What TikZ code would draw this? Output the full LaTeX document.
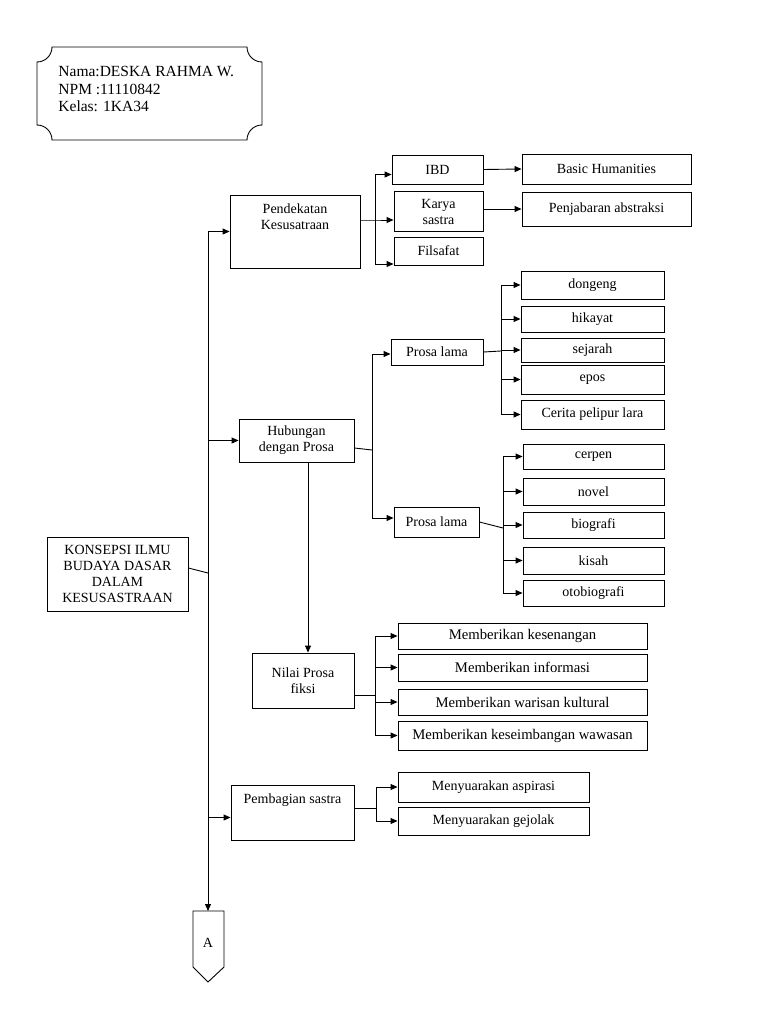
\documentclass[tikz,border=0pt]{standalone}
\usepackage{fontspec}
\setmainfont{Liberation Serif}
\usetikzlibrary{arrows.meta}

\begin{document}
\begin{tikzpicture}[x=1pt, y=-1pt, line width=0.9pt,
  font=\fontsize{14}{16}\selectfont,
  box/.style 2 args={draw, inner sep=2pt, align=center, minimum width=#1pt, minimum height=#2pt},
  lbl/.style={anchor=north, align=center, inner sep=0pt, yshift=-9pt},
  arr/.style={-{Triangle[length=7pt,width=6pt]}}]
\useasboundingbox (0,0) rectangle (768,1024);

% Identitas
\draw (52,47) -- (247,47) arc[start angle=180, end angle=90, radius=15]
  -- (262,125) arc[start angle=270, end angle=180, radius=15]
  -- (52,140) arc[start angle=0, end angle=-90, radius=15]
  -- (37,62) arc[start angle=90, end angle=0, radius=15] -- cycle;
\node[align=left, anchor=west, inner sep=0pt, font=\fontsize{15.5}{17.5}\selectfont] (info) at (58,89)
  {Nama:DESKA RAHMA W.\\NPM :11110842\\Kelas: 1KA34};

% Pusat
\node[box={141}{74}] (konsep) at (117.5,574) {KONSEPSI ILMU\\BUDAYA DASAR\\DALAM\\KESUSASTRAAN};

% Cabang utama
\node[box={130}{73}, label={[lbl]north:{Pendekatan\\Kesusatraan}}] (pend) at (295,231.5) {};
\node[box={115}{43}] (hub) at (296.5,440.5) {Hubungan\\dengan Prosa};
\node[box={102}{55}] (nilai) at (303,680.5) {Nilai Prosa\\fiksi};
\node[box={123}{55}, label={[lbl]north:{Pembagian sastra}}] (pemb) at (292.5,812.5) {};

% Pendekatan
\node[box={91}{29}] (ibd) at (437.5,169.5) {IBD};
\node[box={89}{40}] (karya) at (438.5,211.5) {Karya\\sastra};
\node[box={89}{28}] (fils) at (438.5,251) {Filsafat};
\node[box={169}{30}] (basic) at (606.5,169) {Basic Humanities};
\node[box={169}{34}] (penj) at (606.5,209) {Penjabaran abstraksi};

% Prosa
\node[box={92}{26}] (lama) at (437,352) {Prosa lama};
\node[box={85}{30}] (baru) at (436.5,522) {Prosa lama};
\node[box={143}{28}] (dongeng) at (592.5,285) {dongeng};
\node[box={143}{26}] (hikayat) at (592.5,319) {hikayat};
\node[box={143}{24}] (sejarah) at (592.5,350) {sejarah};
\node[box={143}{29}] (epos) at (592.5,379.5) {epos};
\node[box={143}{29}] (cerita) at (592.5,414.5) {Cerita pelipur lara};
\node[box={141}{25}] (cerpen) at (593.5,456.5) {cerpen};
\node[box={141}{27}] (novel) at (593.5,491.5) {novel};
\node[box={141}{26}] (biografi) at (593.5,525) {biografi};
\node[box={141}{27}] (kisah) at (593.5,560.5) {kisah};
\node[box={141}{26}] (otobio) at (593.5,593) {otobiografi};

% Nilai
\tikzset{nilaibox/.style={font=\fontsize{14.7}{16}\selectfont}}
\node[box={249}{26}, nilaibox] (senang) at (522.5,636) {Memberikan kesenangan};
\node[box={249}{27}, nilaibox] (info2) at (522.5,667.5) {Memberikan informasi};
\node[box={249}{26}, nilaibox] (warisan) at (522.5,702) {Memberikan warisan kultural};
\node[box={249}{29}, nilaibox] (imbang) at (522.5,735.5) {Memberikan keseimbangan wawasan};

% Pembagian
\node[box={191}{30}] (aspirasi) at (493.5,787) {Menyuarakan aspirasi};
\node[box={191}{28}] (gejolak) at (493.5,821) {Menyuarakan gejolak};

% Penghubung A
\draw (193,911) -- (224,911) -- (224,967) -- (208,982) -- (193,967) -- cycle;
\node (conA) at (208,943) {A};

% Garis
\coordinate (tr) at (208,573);
\coordinate (atop) at (208,911);
\draw ([yshift=6pt]konsep.east) -- (tr);
\draw[arr] (tr |- pend.west) -- (atop);
\draw[arr] (tr |- pend.west) -- (pend.west);
\draw[arr] (tr |- hub.west) -- (hub.west);
\draw[arr] ([yshift=-5pt]pemb.west -| tr) -- ([yshift=-5pt]pemb.west);

\coordinate (b1) at (375,220);
\draw[arr] (pend.east |- b1) -- (b1) -- (karya.west |- b1);
\draw[arr] (b1) |- ([yshift=-5pt]ibd.west);
\draw[arr] (b1) |- ([yshift=-13pt]fils.west);
\draw[arr] (ibd.east) -- (basic.west);
\draw[arr] (karya.east |- penj.west) -- (penj.west);

\coordinate (b2) at (372,450);
\draw ([yshift=-7.5pt]hub.east) -- (b2);
\draw[arr] (b2) |- ([yshift=-2pt]lama.west);
\draw[arr] (b2) |- ([yshift=4pt]baru.west);
\draw[arr] ([xshift=11.5pt]hub.south) -- ([xshift=11.5pt]hub.south |- nilai.north);

\coordinate (b3) at (501,351);
\draw (lama.east) -- (b3);
\foreach \n in {dongeng,hikayat,sejarah,epos,cerita}
  \draw[arr] (b3) |- (\n.west);

\coordinate (b4) at (503,528);
\draw (baru.east) -- (b4);
\foreach \n in {cerpen,novel,biografi,kisah,otobio}
  \draw[arr] (b4) |- (\n.west);

\coordinate (b5) at (375,695);
\draw ([yshift=-14.5pt]nilai.east) -- (b5);
\foreach \n in {senang,info2,warisan,imbang}
  \draw[arr] (b5) |- (\n.west);

\coordinate (b6) at (376,808);
\draw ([yshift=4.5pt]pemb.east) -- (b6);
\foreach \n in {aspirasi,gejolak}
  \draw[arr] (b6) |- (\n.west);
\end{tikzpicture}
\end{document}
